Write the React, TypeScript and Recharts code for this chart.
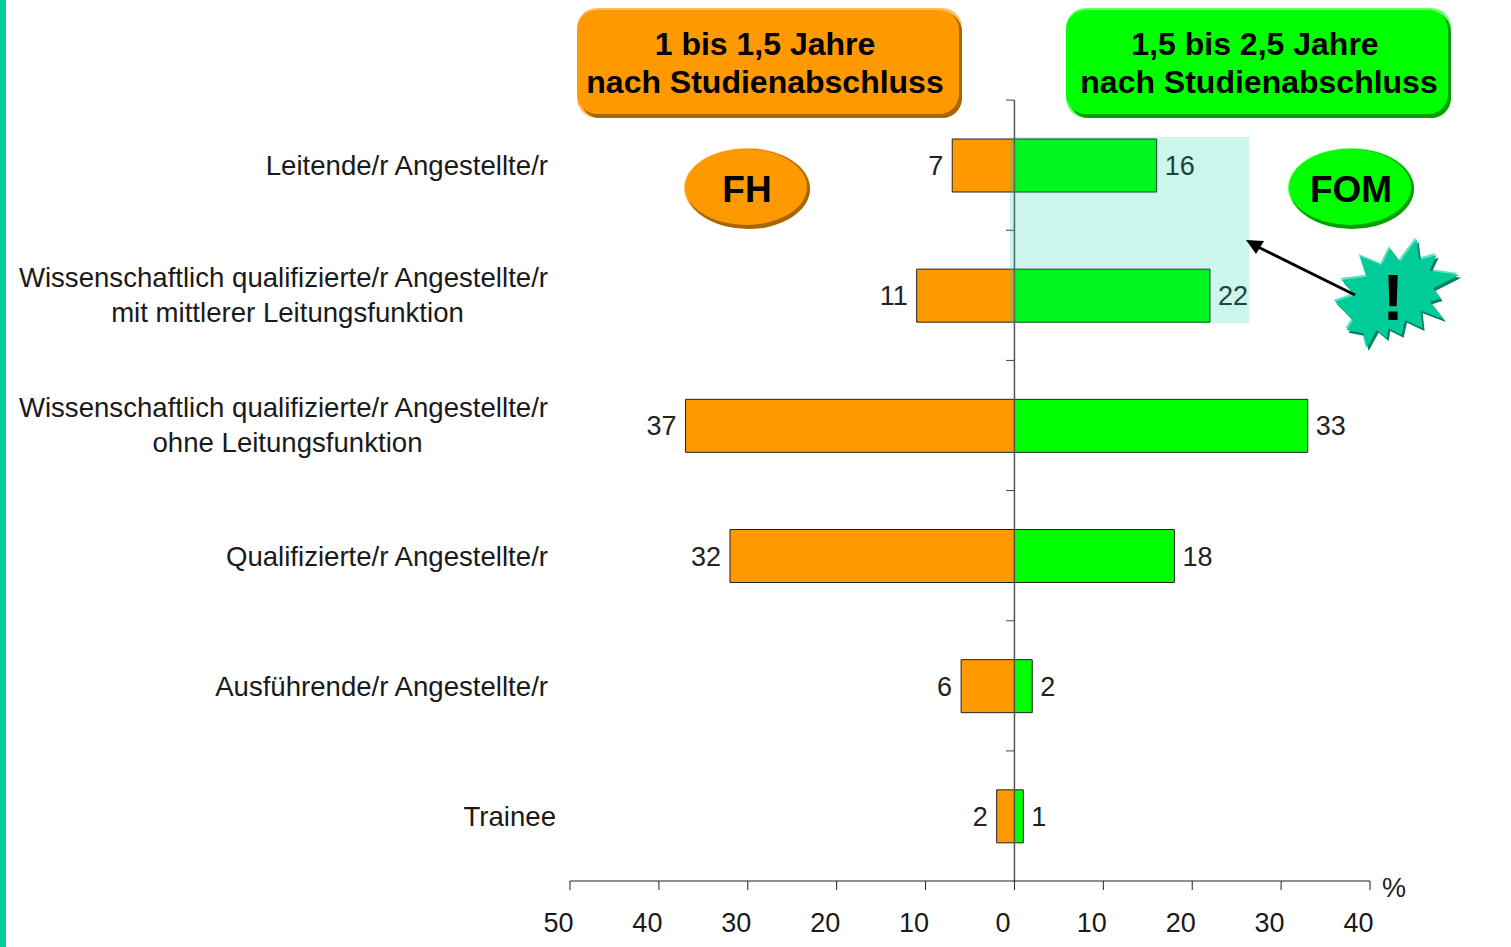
import React from 'react';
import { BarChart, Bar, XAxis, YAxis, LabelList, ReferenceLine } from 'recharts';

const categories = [
  'Leitende/r Angestellte/r',
  'Wissenschaftlich qualifizierte/r Angestellte/r|mit mittlerer Leitungsfunktion',
  'Wissenschaftlich qualifizierte/r Angestellte/r|ohne Leitungsfunktion',
  'Qualifizierte/r Angestellte/r',
  'Ausführende/r Angestellte/r',
  'Trainee',
];
const fhValues = [7, 11, 37, 32, 6, 2];
const fomValues = [16, 22, 33, 18, 2, 1];
const xTicks = [-50, -40, -30, -20, -10, 0, 10, 20, 30, 40];

const chartData = categories.map((name, i) => ({ name, fh: -fhValues[i], fom: fomValues[i] }));

const FONT = '"Liberation Sans", Arial, sans-serif';
const ORANGE = '#FF9900';
const GREEN = '#00FF00';
const TEAL = '#00CC99';

const burst = '1170,745 1200,785 1250,718 1258,780 1310,765 1288,812 1378,825 1300,865 1322,895 1290,905 1332,958 1262,932 1268,985 1215,960 1205,1005 1165,985 1160,1015 1130,990 1100,1045 1090,1000 1040,990 1060,960 1005,905 1065,885 1025,840 1100,830 1080,768 1145,795';

// labels sit in the left column, the small ticks sit on the zero line between rows
const CategoryTick = ({ y, payload }: any) => {
  const lines = String(payload.value).split('|');
  const isTrainee = payload.value === 'Trainee';
  return (
    <g>
      <line x1={1006} x2={1014} y1={y - 65} y2={y - 65} stroke="#444" />
      {lines.length === 1 ? (
        <text x={isTrainee ? 556 : 548} y={y + 10} textAnchor="end" fontSize={27.6} fontFamily={FONT} fill="#1a1a1a">
          {lines[0]}
        </text>
      ) : (
        <text fontSize={27.6} fontFamily={FONT} fill="#1a1a1a">
          <tspan x={548} y={y - 8} textAnchor="end">{lines[0]}</tspan>
          <tspan x={287.5} y={y + 27} textAnchor="middle">{lines[1]}</tspan>
        </text>
      )}
    </g>
  );
};

const ValueTick = ({ x, y, payload }: any) => (
  <text x={x - 11.5} y={y + 40} textAnchor="middle" fontSize={27} fontFamily={FONT} fill="#1a1a1a">
    {Math.abs(payload.value)}
  </text>
);

const HeaderBox = ({ x, fill, light, dark, lines, textX }: any) => (
  <g>
    <rect x={x} y={8} width={385} height={110} rx={20} fill={light} />
    <rect x={x + 3} y={12} width={382} height={106} rx={20} fill={dark} />
    <rect x={x} y={10} width={382} height={104} rx={20} fill={fill} />
    <text x={textX[0]} y={55} textAnchor="middle" fontSize={32} fontWeight="bold" fontFamily={FONT} fill="#000">{lines[0]}</text>
    <text x={textX[1]} y={93} textAnchor="middle" fontSize={32} fontWeight="bold" fontFamily={FONT} fill="#000">{lines[1]}</text>
  </g>
);

const Badge = ({ cx, fill, light, dark, label }: any) => (
  <g>
    <ellipse cx={cx} cy={188} rx={63} ry={40} fill={light} />
    <ellipse cx={cx + 1} cy={189} rx={62} ry={40} fill={dark} />
    <ellipse cx={cx - 1} cy={187} rx={61} ry={38} fill={fill} />
    <text x={cx} y={202} textAnchor="middle" fontSize={37} fontWeight="bold" fontFamily={FONT} fill="#000">{label}</text>
  </g>
);

const App = () => {
  return (
    <div style={{ position: 'absolute', left: 0, top: 0, width: 1511, height: 947, overflow: 'hidden', background: '#fff' }}>
      <div style={{ position: 'absolute', left: 0, top: 0, width: 6, height: 947, background: TEAL }} />
      <BarChart
        width={1511}
        height={947}
        data={chartData}
        layout="vertical"
        stackOffset="sign"
        barSize={53}
        margin={{ top: 100, right: 141, bottom: 0, left: 569 }}
      >
        <XAxis
          type="number"
          domain={[-50, 40]}
          ticks={xTicks}
          interval={0}
          height={66}
          tickSize={9}
          stroke="#222"
          tick={<ValueTick />}
        />
        <YAxis
          type="category"
          dataKey="name"
          width={1}
          interval={0}
          axisLine={false}
          tickLine={false}
          tick={<CategoryTick />}
        />
        <Bar dataKey="fh" stackId="a" fill={ORANGE} stroke="#222" strokeWidth={1} isAnimationActive={false}>
          <LabelList
            dataKey="fh"
            position="right"
            offset={9}
            formatter={(v: any) => Math.abs(v)}
            fontSize={27}
            fontFamily={FONT}
            fill="#222"
          />
        </Bar>
        <Bar dataKey="fom" stackId="a" fill={GREEN} stroke="#222" strokeWidth={1} isAnimationActive={false}>
          <LabelList dataKey="fom" position="right" offset={8} fontSize={27} fontFamily={FONT} fill="#222" />
        </Bar>
        <ReferenceLine x={0} stroke="#555" strokeWidth={1.5} isFront />
      </BarChart>
      <svg width={1511} height={947} style={{ position: 'absolute', left: 0, top: 0, pointerEvents: 'none' }}>
        <rect x={1010} y={137} width={239} height={186} fill={TEAL} fillOpacity={0.2} />
        <HeaderBox x={577} fill={ORANGE} light="#FFBB66" dark="#A86500" textX={[765, 765]} lines={['1 bis 1,5 Jahre', 'nach Studienabschluss']} />
        <HeaderBox x={1066} fill={GREEN} light="#66FF66" dark="#00A000" textX={[1255, 1259]} lines={['1,5 bis 2,5 Jahre', 'nach Studienabschluss']} />
        <Badge cx={747} fill={ORANGE} light="#FFBB66" dark="#A86500" label="FH" />
        <Badge cx={1351} fill={GREEN} light="#66FF66" dark="#00A000" label="FOM" />
        <text x={1394} y={897} textAnchor="middle" fontSize={27} fontFamily={FONT} fill="#222">%</text>
        <g transform="translate(1000 0) scale(0.3333)">
          <polygon points={burst} fill="#66E0C2" transform="translate(-4 -6)" />
          <polygon points={burst} fill="#008066" transform="translate(6 8)" />
          <polygon points={burst} fill={TEAL} />
        </g>
        <line x1={1355} y1={295} x2={1254} y2={245} stroke="#000" strokeWidth={3} />
        <polygon points="1246,240 1264,241 1256,254" fill="#000" />
        <text x={1393} y={320} textAnchor="middle" fontSize={65} fontWeight="bold" fontFamily={FONT} fill="#000">!</text>
      </svg>
    </div>
  );
};

export default App;
